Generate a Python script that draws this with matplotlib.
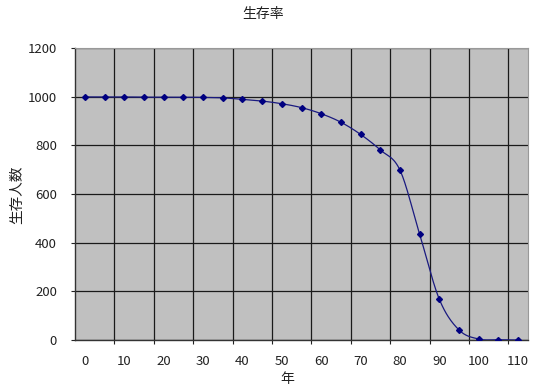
import numpy as np
import matplotlib
matplotlib.use("Agg")
import matplotlib.pyplot as plt
from matplotlib.ticker import FixedLocator

plt.rcParams['font.family'] = ['Noto Sans CJK JP', 'DejaVu Sans']

years = list(range(0, 115, 5))
survivors = [999, 999, 999, 998, 998, 998, 997, 995, 989, 982, 971, 955,
             930, 895, 845, 781, 698, 434, 167, 41, 4, 1, 0]
x_labels = [str(v) for v in range(0, 120, 10)]
y_ticks = [0, 200, 400, 600, 800, 1000, 1200]

title = "生存率"
xlabel = "年"
ylabel = "生存人数"

def excel_smooth(x, y, n=30):
    x = np.asarray(x, float); y = np.asarray(y, float)
    px, py = [], []
    for i in range(len(x) - 1):
        x0, y0 = (x[i-1], y[i-1]) if i > 0 else (x[i], y[i])
        x3, y3 = (x[i+2], y[i+2]) if i + 2 < len(x) else (x[i+1], y[i+1])
        x1, y1, x2, y2 = x[i], y[i], x[i+1], y[i+1]
        c1x, c1y = x1 + (x2 - x0) / 6, y1 + (y2 - y0) / 6
        c2x, c2y = x2 - (x3 - x1) / 6, y2 - (y3 - y1) / 6
        t = np.linspace(0, 1, n)
        bx = (1-t)**3*x1 + 3*(1-t)**2*t*c1x + 3*(1-t)*t**2*c2x + t**3*x2
        by = (1-t)**3*y1 + 3*(1-t)**2*t*c1y + 3*(1-t)*t**2*c2y + t**3*y2
        px.extend(bx); py.extend(by)
    return np.array(px), np.array(py)

fig = plt.figure(figsize=(5.5, 3.89), dpi=100)
ax = fig.add_axes([75/550, 49/389, 453/550, 292/389])
ax.set_facecolor('#C0C0C0')

sx, sy = excel_smooth(years, survivors)
ax.plot(sx, sy, color='#1a1a80', lw=0.9, zorder=3)
ax.plot(years, survivors, linestyle='none', marker='D', markersize=3.0,
        color='#000080', zorder=4)

ax.set_xlim(-2.5, 112.5)
ax.set_ylim(0, 1200)

major_x = [float(v) for v in x_labels]
ax.xaxis.set_major_locator(FixedLocator(major_x))
ax.set_xticklabels(x_labels)
ax.xaxis.set_minor_locator(FixedLocator([m + 7.5 for m in range(0, 110, 10)]))
ax.tick_params(axis='x', which='major', length=0, pad=11, labelsize=9.5)
ax.tick_params(axis='x', which='minor', length=3, width=0.8, color='#222222')
ax.grid(axis='x', which='minor', color='#1a1a1a', lw=0.9)

ax.set_yticks(y_ticks)
ax.tick_params(axis='y', length=3, width=0.8, pad=10, labelsize=9.5, color='#222222')
ax.grid(axis='y', which='major', color='#1a1a1a', lw=0.9)
ax.set_axisbelow(True)

for s in ['left', 'bottom']:
    ax.spines[s].set_color('#333333'); ax.spines[s].set_linewidth(1.0)
for s in ['top', 'right']:
    ax.spines[s].set_color('#999999'); ax.spines[s].set_linewidth(0.8)

for lbl in ax.get_xticklabels() + ax.get_yticklabels():
    lbl.set_color('#222222')

fig.text(263/550, 1 - 14/389, title, ha='center', va='center', fontsize=10, color='#222222')
fig.text(287/550, 1 - 379/389, xlabel, ha='center', va='center', fontsize=10, color='#222222')
fig.text(17/550, 1 - 195/389, ylabel, ha='center', va='center', rotation=90,
         fontsize=10.5, color='#222222')

fig.savefig('out.png', dpi=100)
